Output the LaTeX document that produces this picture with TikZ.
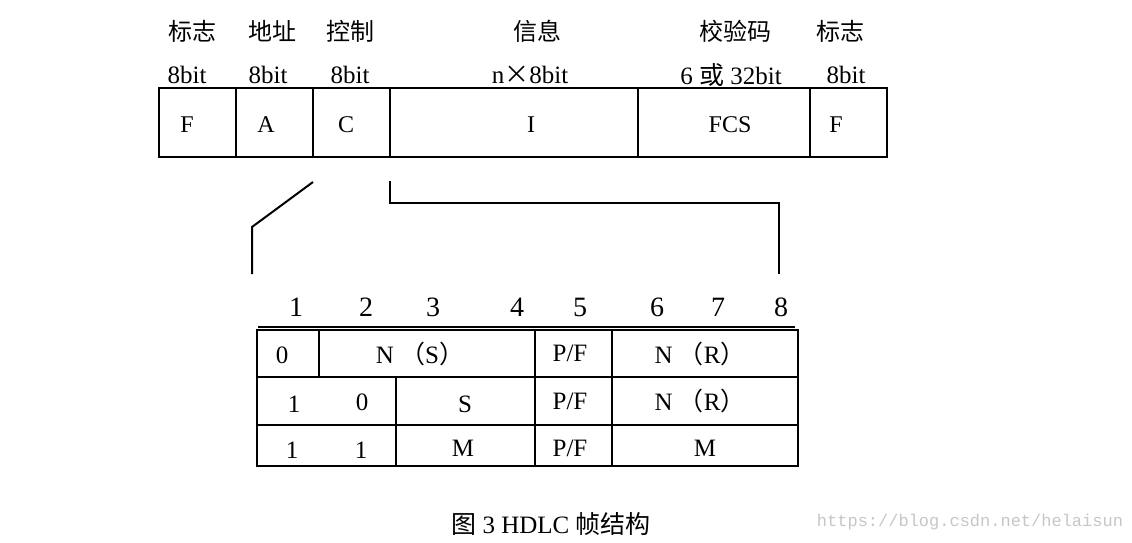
\documentclass[tikz,border=0pt]{standalone}
\usepackage{fontspec}
\setmainfont{Liberation Serif}
\newfontfamily\cjk{Noto Sans CJK SC}
\newfontfamily\wmfont{Liberation Mono}
\begin{document}
\begin{tikzpicture}[x=1pt, y=-1pt, line width=2pt,
  head/.style={font=\cjk\fontsize{24}{24}\selectfont},
  width/.style={font=\fontsize{25}{25}\selectfont},
  field/.style={font=\fontsize{24}{24}\selectfont},
  bitno/.style={font=\fontsize{28}{28}\selectfont},
  cell/.style={font=\fontsize{25}{25}\selectfont}]
\useasboundingbox (0,0) rectangle (1132,542);
% frame fields
\node [head] (hF1) at (192,31) {标志};
\node [head] (hA) at (272,31) {地址};
\node [head] (hC) at (350,31) {控制};
\node [head] (hI) at (537,31) {信息};
\node [head] (hFCS) at (735,31) {校验码};
\node [head] (hF2) at (840,31) {标志};
\node [width] (wF1) at (187,75) {8bit};
\node [width] (wA) at (268,75) {8bit};
\node [width] (wC) at (350,75) {8bit};
\node [width] (wI) at (530,75) {n{\cjk ×}8bit};
\node [width] (wFCS) at (731,75) {6 {\cjk 或} 32bit};
\node [width] (wF2) at (846,75) {8bit};
\draw (159,88) rectangle (887,157);
\foreach \x in {236,313,390,638,810}
  \draw (\x,88) -- (\x,157);
\node [field] (fF1) at (187,125) {F};
\node [field] (fA) at (266,125) {A};
\node [field] (fC) at (346,125) {C};
\node [field] (fI) at (531,125) {I};
\node [field] (fFCS) at (730,125) {FCS};
\node [field] (fF2) at (836,125) {F};
% connectors to the control field
\coordinate (c0) at (313,182);
\coordinate (c1) at (252,227);
\coordinate (c2) at (252,274);
\draw (c0) -- (c1) -- (c2);
\coordinate (i0) at (390,181);
\coordinate (i1) at (779,203);
\coordinate (i2) at (779,274);
\draw (i0) |- (i1) -- (i2);
% control field
\foreach \x/\n in {296/1,366/2,433/3,517/4,580/5,657/6,718/7,781/8}
  \node [bitno] (b\n) at (\x,307) {\n};
\draw (258,327) -- (795,327);
\draw (257,330) rectangle (798,466);
\draw (257,377) -- (798,377);
\draw (257,425) -- (798,425);
\draw (319,330) -- (319,377);
\draw (396,377) -- (396,466);
\draw (535,330) -- (535,466);
\draw (612,330) -- (612,466);
\node [cell] (r1a) at (282,355) {0};
\node [cell] (r1b) at (420,354) {N {\cjk （}S{\cjk ）}};
\node [cell] (r1c) at (570,353) {P/F};
\node [cell] (r1d) at (700,354) {N {\cjk （}R{\cjk ）}};
\node [cell] (r2a) at (294,404) {1};
\node [cell] (r2b) at (362,402) {0};
\node [cell] (r2c) at (465,404) {S};
\node [cell] (r2d) at (570,401) {P/F};
\node [cell] (r2e) at (700,401) {N {\cjk （}R{\cjk ）}};
\node [cell] (r3a) at (292,450) {1};
\node [cell] (r3b) at (361,450) {1};
\node [cell] (r3c) at (463,448) {M};
\node [cell] (r3d) at (570,448) {P/F};
\node [cell] (r3e) at (705,448) {M};
% caption
\node [font=\fontsize{25}{25}\selectfont] (cap) at (551,524) {{\cjk 图} 3 HDLC {\cjk 帧结构}};
\node [font=\wmfont\fontsize{17}{17}\selectfont, text=gray!45] (wm) at (970,522) {https://blog.csdn.net/helaisun};
\end{tikzpicture}
\end{document}
